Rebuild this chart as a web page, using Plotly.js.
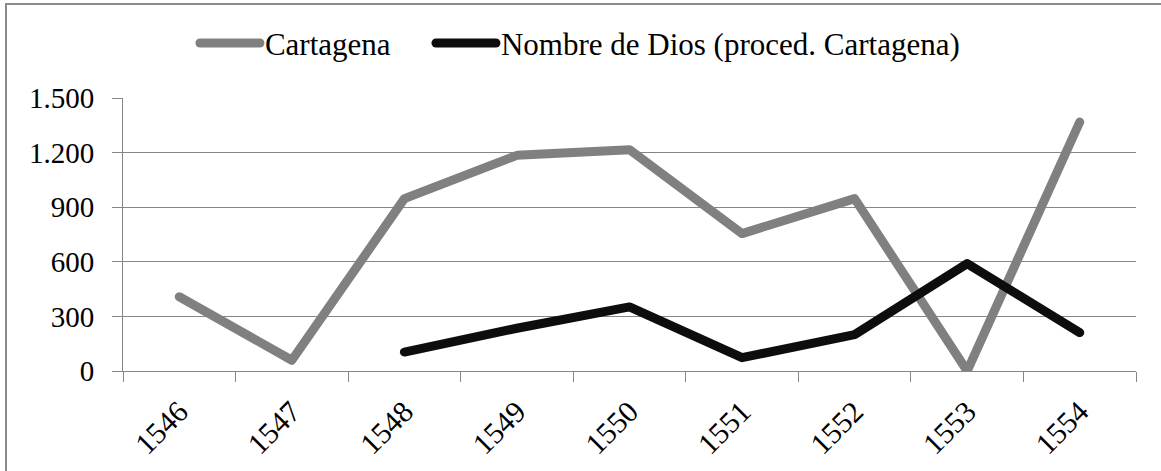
<!DOCTYPE html>
<html>
<head>
<meta charset="utf-8">
<script src="https://cdn.plot.ly/plotly-3.0.1.min.js"></script>
<style>
  html, body { margin: 0; padding: 0; background: #fff; }
  #wrap { position: relative; width: 1161px; height: 471px; overflow: hidden; }
  #chart { width: 1161px; height: 471px; }
  #frame { position: absolute; left: 5px; top: 3px; right: 0; bottom: 0;
           border-top: 2px solid #8a8a8a; border-left: 2px solid #8a8a8a; pointer-events: none; }
  .js-line { stroke-linecap: round !important; stroke-linejoin: round !important; }
  #chart svg text { font-family: 'Liberation Serif', 'Times New Roman', serif !important; }
</style>
</head>
<body>
<div id="wrap">
  <div id="chart"></div>
  <div id="frame"></div>
</div>
<script>
const years = ["1546", "1547", "1548", "1549", "1550", "1551", "1552", "1553", "1554"];
const cartagena = [408, 59, 947, 1185, 1216, 755, 947, 0, 1368];
const nombreDeDios = [null, null, 104, 235, 352, 73, 200, 590, 211];
const seriesNames = ["Cartagena", "Nombre de Dios (proced. Cartagena)"];
const yTicks = [0, 300, 600, 900, 1200, 1500];

const fontFamily = "Liberation Serif, Times New Roman, serif";

const traces = [
  {
    x: years, y: cartagena, name: seriesNames[0], type: "scatter", mode: "lines",
    line: { color: "#808080", width: 9 }, connectgaps: false, legend: "legend"
  },
  {
    x: years, y: nombreDeDios, name: seriesNames[1], type: "scatter", mode: "lines",
    line: { color: "#0d0d0d", width: 9 }, connectgaps: false, legend: "legend2"
  }
];

const legendBase = {
  orientation: "h", xanchor: "left", y: 1.2, yanchor: "middle",
  font: { family: fontFamily, size: 31, color: "#000" },
  itemwidth: 60, bgcolor: "rgba(0,0,0,0)"
};

const layout = {
  width: 1161, height: 471,
  margin: { l: 123, r: 25, t: 98, b: 100 },
  paper_bgcolor: "#fff", plot_bgcolor: "#fff",
  separators: ",.",
  font: { family: fontFamily, size: 28, color: "#000" },
  showlegend: true,
  legend: Object.assign({}, legendBase, { x: 0.071 }),
  legend2: Object.assign({}, legendBase, { x: 0.304 }),
  xaxis: {
    type: "category", range: [-0.5, 8.5], fixedrange: true,
    tickangle: -45, ticks: "outside", ticklen: 10, tickcolor: "#868686",
    tickson: "boundaries", showgrid: false, ticklabelstandoff: 10,
    showline: true, linecolor: "#868686", linewidth: 1,
    tickfont: { family: fontFamily, size: 30, color: "#000" }
  },
  yaxis: {
    range: [0, 1500], tickvals: yTicks, tickformat: ",d",
    ticks: "outside", ticklen: 10, tickcolor: "#868686", ticklabelstandoff: 12,
    showgrid: true, gridcolor: "#868686", gridwidth: 1,
    showline: true, linecolor: "#868686", linewidth: 1,
    zeroline: false, fixedrange: true,
    tickfont: { family: fontFamily, size: 29, color: "#000" }
  }
};

function forceFont() {
  const gd = document.getElementById("chart");
  gd.querySelectorAll("text").forEach(t => {
    t.style.fontFamily = "'Liberation Serif', serif";
    t.setAttribute("font-family", "Liberation Serif, serif");
  });
}
Plotly.newPlot("chart", traces, layout, { displayModeBar: false, staticPlot: true }).then(gd => {
  forceFont();
  gd.on && gd.on("plotly_afterplot", forceFont);
  if (document.fonts && document.fonts.ready) document.fonts.ready.then(forceFont);
  [30, 100, 300, 600].forEach(ms => setTimeout(forceFont, ms));
});
</script>
</body>
</html>
